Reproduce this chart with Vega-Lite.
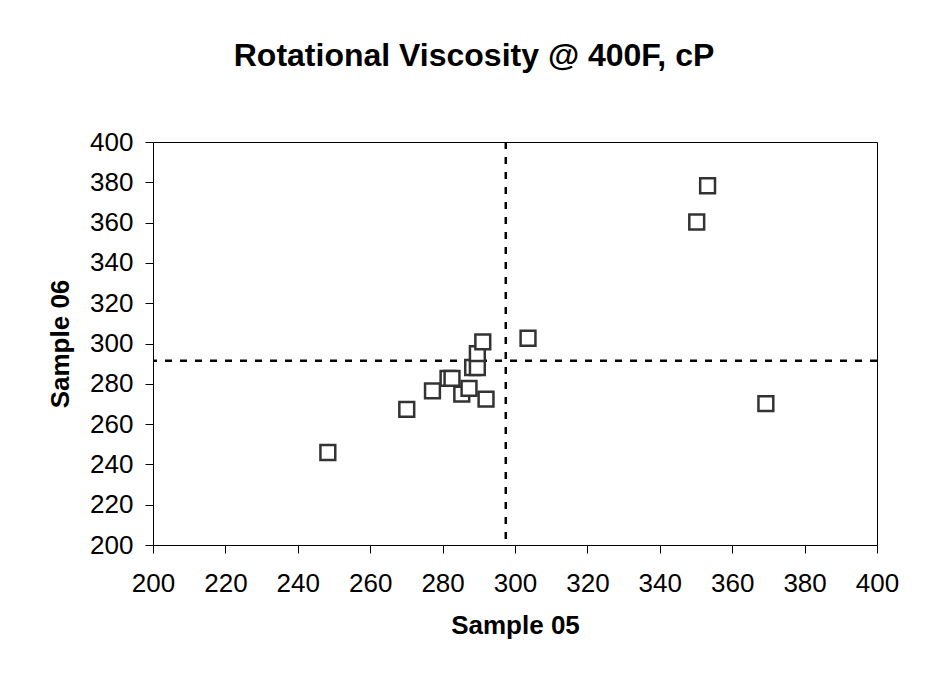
{
  "$schema": "https://vega.github.io/schema/vega-lite/v6.json",
  "autosize": {"type": "none"},
  "width": 724,
  "height": 403,
  "padding": {"left": 153, "top": 142, "right": 60, "bottom": 134},
  "background": "white",
  "title": {
    "text": "Rotational Viscosity @ 400F, cP",
    "font": "Liberation Sans",
    "fontSize": 32,
    "fontWeight": "bold",
    "color": "black",
    "anchor": "middle",
    "dx": -41,
    "offset": 56
  },
  "config": {
    "view": {"stroke": "black", "strokeWidth": 1},
    "axis": {
      "grid": false,
      "domainColor": "black",
      "tickColor": "black",
      "tickSize": 8,
      "labelFont": "Liberation Sans",
      "labelFontSize": 26,
      "labelColor": "black",
      "labelFlush": false,
      "labelOverlap": false,
      "titleFont": "Liberation Sans",
      "titleFontSize": 26,
      "titleFontWeight": "bold",
      "titleColor": "black"
    }
  },
  "data": {
    "values": [
      {"s05": 248.3, "s06": 245.9},
      {"s05": 270.1, "s06": 267.3},
      {"s05": 277.2, "s06": 276.5},
      {"s05": 281.5, "s06": 282.7},
      {"s05": 282.6, "s06": 282.7},
      {"s05": 285.3, "s06": 274.9},
      {"s05": 287.3, "s06": 277.7},
      {"s05": 288.3, "s06": 288.1},
      {"s05": 289.6, "s06": 288.1},
      {"s05": 289.6, "s06": 295.0},
      {"s05": 291.1, "s06": 300.8},
      {"s05": 292.0, "s06": 272.4},
      {"s05": 303.6, "s06": 302.6},
      {"s05": 350.2, "s06": 360.3},
      {"s05": 353.2, "s06": 378.3},
      {"s05": 369.3, "s06": 270.2}
    ]
  },
  "layer": [
    {
      "mark": {"type": "rule", "color": "black", "strokeWidth": 2.5, "strokeDash": [7, 8]},
      "encoding": {
        "x": {"aggregate": "mean", "field": "s05", "type": "quantitative"}
      }
    },
    {
      "mark": {"type": "rule", "color": "black", "strokeWidth": 2.5, "strokeDash": [7, 8]},
      "encoding": {
        "y": {"aggregate": "mean", "field": "s06", "type": "quantitative"}
      }
    },
    {
      "mark": {"type": "point", "shape": "square", "filled": false, "fill": "white", "fillOpacity": 1, "stroke": "#333333", "strokeWidth": 2.5, "opacity": 1, "size": 220},
      "encoding": {
        "x": {
          "field": "s05", "type": "quantitative",
          "scale": {"domain": [200, 400], "nice": false, "zero": false},
          "axis": {"values": [200,220,240,260,280,300,320,340,360,380,400], "title": "Sample 05", "labelPadding": 17, "titlePadding": 16}
        },
        "y": {
          "field": "s06", "type": "quantitative",
          "scale": {"domain": [200, 400], "nice": false, "zero": false},
          "axis": {"values": [200,220,240,260,280,300,320,340,360,380,400], "title": "Sample 06", "labelPadding": 12, "titlePadding": 16}
        }
      }
    }
  ]
}
